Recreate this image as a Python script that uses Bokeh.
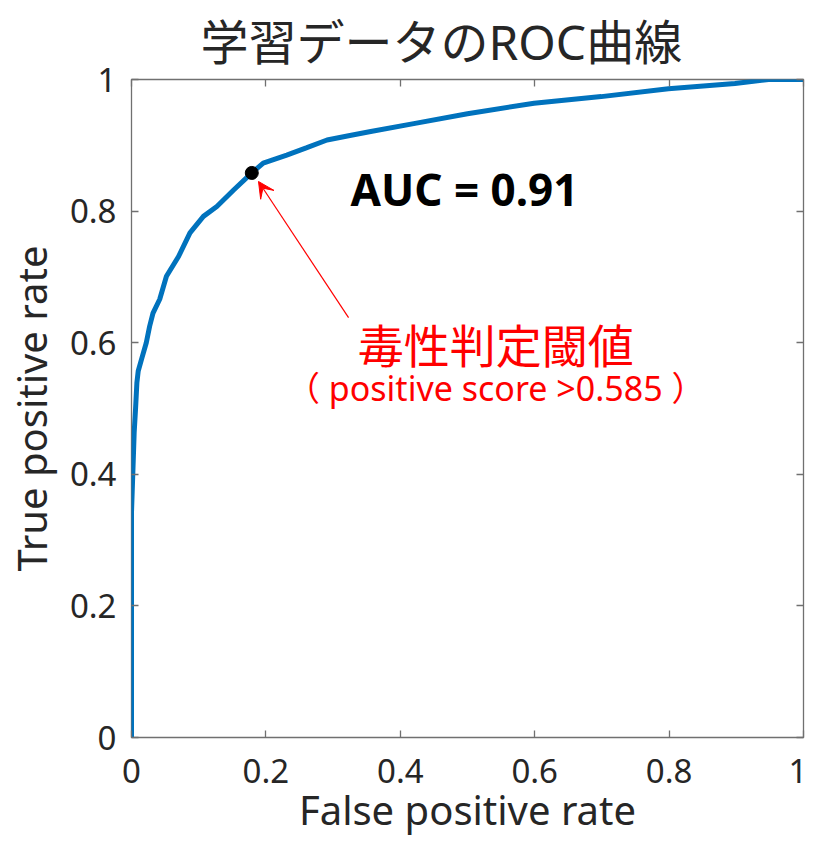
from bokeh.plotting import figure
from bokeh.models import (Range1d, LinearAxis, FixedTicker, Title, Label, Arrow,
                          VeeHead, ColumnDataSource)
from bokeh.embed import file_html
from bokeh.resources import INLINE

# ---- data ----
fpr = [0.0, 0.0, 0.002, 0.004, 0.006, 0.008, 0.010, 0.015, 0.022, 0.027, 0.032,
       0.042, 0.052, 0.070, 0.087, 0.107, 0.127, 0.152, 0.179, 0.196, 0.231,
       0.260, 0.291, 0.325, 0.356, 0.420, 0.500, 0.599, 0.699, 0.799, 0.898,
       0.948, 1.0]
tpr = [0.0, 0.342, 0.403, 0.464, 0.499, 0.539, 0.557, 0.575, 0.600, 0.625, 0.645,
       0.666, 0.701, 0.731, 0.767, 0.792, 0.807, 0.832, 0.858, 0.873, 0.885,
       0.896, 0.908, 0.915, 0.921, 0.933, 0.948, 0.964, 0.974, 0.986, 0.994,
       1.0, 1.0]

threshold_fpr = [0.179]
threshold_tpr = [0.858]

arrow_from = (0.323, 0.638)
arrow_to = (0.189, 0.845)

auc_text = "AUC = 0.91"
auc_pos = (0.326, 0.834)
note_title = "毒性判定閾値"
note_title_pos = (0.542, 0.600)
note_sub = "（ positive score >0.585 ）"
note_sub_pos = (0.542, 0.531)

tick_values = [0, 0.2, 0.4, 0.6, 0.8, 1]
tick_labels = ["0", "0.2", "0.4", "0.6", "0.8", "1"]

title_text = "学習データのROC曲線"
x_label = "False positive rate"
y_label = "True positive rate"

# ---- figure ----
AX = "#707070"
TXT = "#262626"
LAT = "Noto Sans"
CJK = "Noto Sans CJK JP"
MIX = "'Noto Sans', 'Noto Sans CJK JP'"

p = figure(width=807, height=839, output_backend="svg",
           toolbar_location=None, x_range=Range1d(0, 1), y_range=Range1d(0, 1),
           min_border_left=128, min_border_right=4, min_border_top=79,
           min_border_bottom=100, x_axis_location=None, y_axis_location=None)
p.grid.visible = False
p.outline_line_color = AX
p.outline_line_width = 1.3
p.background_fill_color = "white"
p.border_fill_color = "white"

overrides = {v: s for v, s in zip(tick_values, tick_labels)}


def make_axis(show_labels, label=None):
    ax = LinearAxis(ticker=FixedTicker(ticks=tick_values))
    ax.axis_line_color = None
    ax.major_tick_line_color = AX
    ax.major_tick_line_width = 1.3
    ax.major_tick_in = 7
    ax.major_tick_out = 0
    ax.minor_tick_line_color = None
    if show_labels:
        ax.major_label_overrides = overrides
        ax.major_label_text_font = LAT
        ax.major_label_text_font_size = "33px"
        ax.major_label_text_color = TXT
    else:
        ax.major_label_text_color = None
        ax.major_label_text_font_size = "1px"
        ax.major_label_standoff = 0
    if label:
        ax.axis_label = label
        ax.axis_label_text_font = LAT
        ax.axis_label_text_font_size = "40px"
        ax.axis_label_text_font_style = "normal"
        ax.axis_label_text_color = TXT
    return ax


xb = make_axis(True, x_label)
xb.major_label_standoff = 21
xb.axis_label_standoff = -4
yl = make_axis(True, y_label)
yl.major_label_standoff = 15
yl.axis_label_standoff = 8
p.add_layout(xb, "below")
p.add_layout(yl, "left")
p.add_layout(make_axis(False), "above")
p.add_layout(make_axis(False), "right")

p.add_layout(Title(text=title_text, align="left", vertical_align="middle",
                   text_font=MIX, text_font_size="48px",
                   text_font_style="normal", text_color=TXT, offset=69,
                   standoff=10), "above")

src = ColumnDataSource(data=dict(fpr=fpr, tpr=tpr))
p.line("fpr", "tpr", source=src, line_color="#0072BD", line_width=5)
p.scatter(threshold_fpr, threshold_tpr, size=13, fill_color="black",
          line_color="black")

p.add_layout(Arrow(end=VeeHead(size=16, fill_color="red", line_color="red",
                               line_width=1),
                   x_start=arrow_from[0], y_start=arrow_from[1],
                   x_end=arrow_to[0], y_end=arrow_to[1],
                   line_color="red", line_width=1.2))

p.add_layout(Label(x=auc_pos[0], y=auc_pos[1], text=auc_text, text_font=LAT,
                   text_font_size="44px", text_font_style="bold",
                   text_color="black", text_baseline="middle"))
p.add_layout(Label(x=note_title_pos[0], y=note_title_pos[1], text=note_title,
                   text_font=CJK, text_font_size="46px", text_color="red",
                   text_align="center", text_baseline="middle"))
p.add_layout(Label(x=note_sub_pos[0], y=note_sub_pos[1], text=note_sub,
                   text_font=MIX, text_font_size="34px", text_color="red",
                   text_align="center", text_baseline="middle"))

open("out.html", "w").write(file_html(p, INLINE))
